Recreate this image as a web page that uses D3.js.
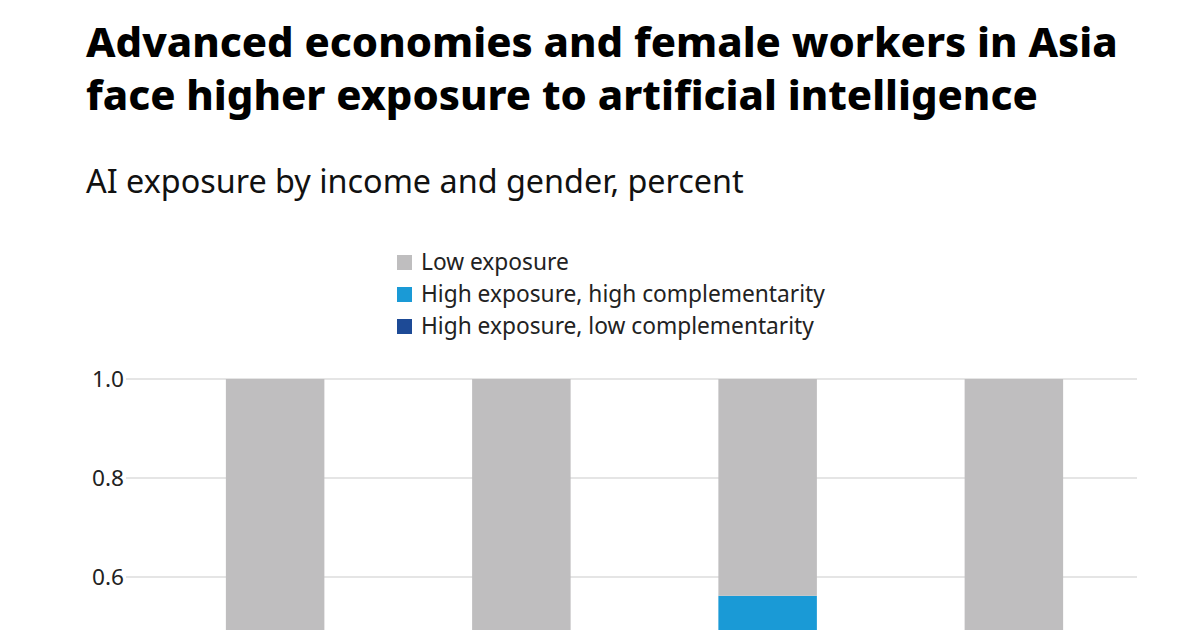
<!DOCTYPE html>
<html><head><meta charset="utf-8">
<script src="https://cdn.jsdelivr.net/npm/d3@7"></script>
<style>html,body{margin:0;padding:0;background:#fff;overflow:hidden}</style>
</head><body>
<svg id="c" width="1200" height="630"></svg>
<script>
const categories = ["Emerging markets, men", "Emerging markets, women", "Advanced economies, women", "Advanced economies, men"];
const seriesNames = ["High exposure, low complementarity", "High exposure, high complementarity", "Low exposure"];
const lowCompl = [0.20, 0.24, 0.262, 0.22];
const highCompl = [0.14, 0.16, 0.300, 0.24];
const lowExposure = [0.66, 0.60, 0.438, 0.54];
const yTicks = [0, 0.2, 0.4, 0.6, 0.8, 1.0];
const colors = ["#1d4a96", "#1a9ad6", "#bfbebf"];
const legendOrder = [2, 1, 0];

const svg = d3.select("#c");
const font = "'Noto Sans', 'Open Sans', sans-serif";

function fit(sel, target, base) {
  const w = sel.node().getComputedTextLength();
  sel.attr("font-size", base * target / w);
  return sel;
}

const t1 = svg.append("text").attr("x", 86).attr("y", 57).attr("font-family", font).attr("font-weight", 800)
  .attr("font-size", 38).attr("fill", "#000").text("Advanced economies and female workers in Asia");
fit(t1, 1032, 38);
const t2 = svg.append("text").attr("x", 86).attr("y", 110).attr("font-family", font).attr("font-weight", 800)
  .attr("font-size", t1.attr("font-size")).attr("fill", "#000").text("face higher exposure to artificial intelligence");
const st = svg.append("text").attr("x", 86).attr("y", 193).attr("font-family", font)
  .attr("font-size", 28).attr("fill", "#111").text("AI exposure by income and gender, percent");
fit(st, 658, 28);

const x = d3.scaleBand().domain(categories).range([152, 1137]).paddingInner(0.6).paddingOuter(0.3);
const y = d3.scaleLinear().domain([0, 1]).range([874, 379]);
const visibleTicks = yTicks.filter(d => y(d) < 620);

const g = svg.append("g");
g.selectAll("line.grid").data(visibleTicks).join("line").attr("class", "grid")
  .attr("x1", 126).attr("x2", 1137).attr("y1", d => y(d)).attr("y2", d => y(d))
  .attr("stroke", "#dcdcdc").attr("stroke-width", 1.5);
const tk = g.selectAll("text.tick").data(visibleTicks).join("text").attr("class", "tick")
  .attr("x", 124).attr("y", d => y(d)).attr("dy", "0.35em").attr("text-anchor", "end")
  .attr("font-family", font).attr("font-size", 20).attr("fill", "#222")
  .text(d => d3.format(".1f")(d));
fit(tk.filter((d, i) => i === 0), 32, 20);
tk.attr("font-size", tk.filter((d, i) => i === 0).attr("font-size"));

const table = categories.map((c, i) => ({cat: c, s0: lowCompl[i], s1: highCompl[i], s2: lowExposure[i]}));
const stacked = d3.stack().keys(["s0", "s1", "s2"])(table);
g.selectAll("g.series").data(stacked).join("g").attr("class", "series")
  .attr("fill", (d, i) => colors[i])
  .selectAll("rect").data(d => d).join("rect")
  .attr("x", d => x(d.data.cat)).attr("width", x.bandwidth())
  .attr("y", d => y(d[1])).attr("height", d => y(d[0]) - y(d[1]));

const leg = svg.append("g");
let legSize = 21;
legendOrder.forEach((si, k) => {
  const yy = 262 + k * 32;
  leg.append("rect").attr("x", 397).attr("y", yy - 7).attr("width", 15).attr("height", 15).attr("fill", colors[si]);
  const t = leg.append("text").attr("x", 421).attr("y", yy).attr("dy", "0.35em").attr("font-family", font)
    .attr("font-size", 21).attr("fill", "#222").text(seriesNames[si]);
  if (k === 1) { fit(t, 404, 21); legSize = +t.attr("font-size"); }
});
leg.selectAll("text").attr("font-size", legSize);
</script>
</body></html>
